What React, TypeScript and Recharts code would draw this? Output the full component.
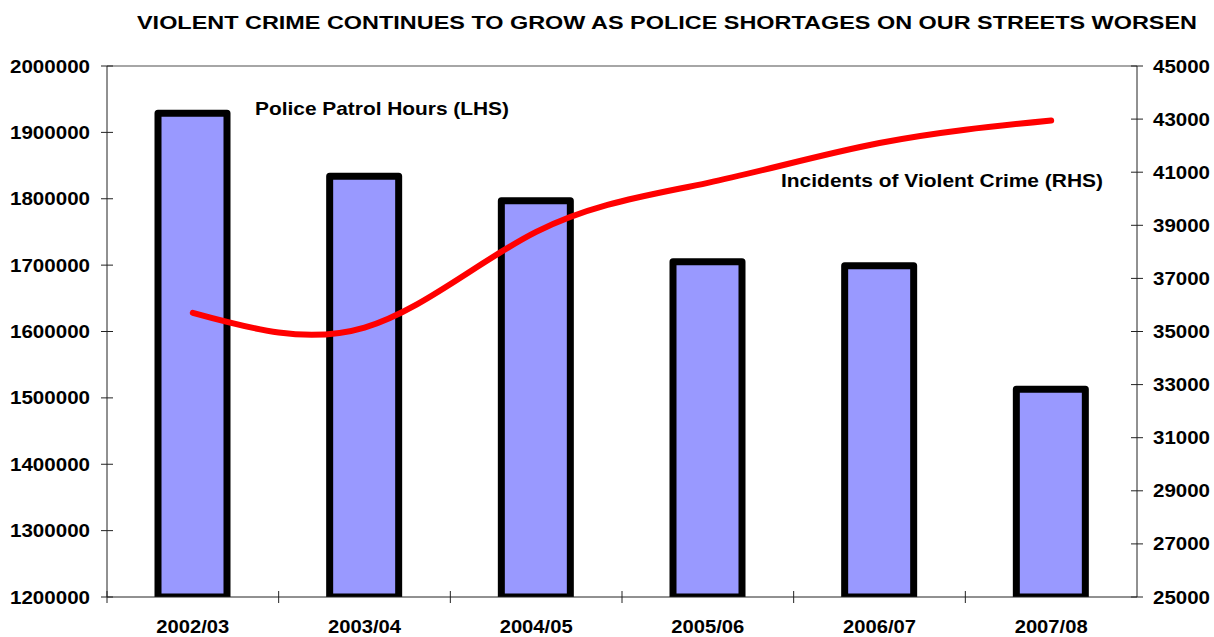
import { ComposedChart, Bar, Line, XAxis, YAxis, ReferenceLine } from "recharts";

const years = ["2002/03", "2003/04", "2004/05", "2005/06", "2006/07", "2007/08"];
const patrolHours = [1929000, 1834000, 1797000, 1705000, 1699000, 1513000];
const violentCrime = [35700, 35150, 38750, 40600, 42100, 42950];
const leftTicks = [1200000, 1300000, 1400000, 1500000, 1600000, 1700000, 1800000, 1900000, 2000000];
const rightTicks = [25000, 27000, 29000, 31000, 33000, 35000, 37000, 39000, 41000, 43000, 45000];

const FONT = "Arial, 'Liberation Sans', Helvetica, sans-serif";

const data = years.map((y, i) => ({
  year: y,
  patrol: patrolHours[i],
  crime: violentCrime[i],
}));

// x ticks: label under the bar + small separator tick between categories
const XTick = (props: any) => {
  const { x, y, payload } = props;
  const half = payload?.offset || 85.8;
  return (
    <g>
      <line x1={x - half} x2={x - half} y1={y - 6} y2={y + 6} stroke="#222" strokeWidth={1} />
      <text
        x={x}
        y={y + 36}
        textAnchor="middle"
        fontFamily={FONT}
        fontWeight="bold"
        fontSize={18}
        fill="#000"
        textLength={73}
        lengthAdjust="spacingAndGlyphs"
      >
        {payload.value}
      </text>
    </g>
  );
};

const LeftTick = (props: any) => {
  const { x, y, payload } = props;
  return (
    <g>
      <line x1={x - 6} x2={x + 6} y1={y} y2={y} stroke="#222" strokeWidth={1} />
      <text
        x={x - 17}
        y={y + 6.5}
        textAnchor="end"
        fontFamily={FONT}
        fontWeight="bold"
        fontSize={18}
        fill="#000"
        textLength={80}
        lengthAdjust="spacingAndGlyphs"
      >
        {payload.value}
      </text>
    </g>
  );
};

const RightTick = (props: any) => {
  const { x, y, payload } = props;
  return (
    <g>
      <line x1={x - 6} x2={x + 6} y1={y} y2={y} stroke="#222" strokeWidth={1} />
      <text
        x={x + 16}
        y={y + 6.5}
        textAnchor="start"
        fontFamily={FONT}
        fontWeight="bold"
        fontSize={18}
        fill="#000"
        textLength={57}
        lengthAdjust="spacingAndGlyphs"
      >
        {payload.value}
      </text>
    </g>
  );
};

export default function App() {
  return (
    <div style={{ position: "fixed", top: 0, left: 0, width: 1214, height: 637, background: "#fff" }}>
      <ComposedChart
        width={1214}
        height={637}
        data={data}
        margin={{ top: 66, right: 0, bottom: 39, left: 0 }}
      >
        <XAxis
          dataKey="year"
          height={1}
          tickSize={0}
          tickMargin={0}
          tick={<XTick />}
          axisLine={{ stroke: "#222", strokeWidth: 1 }}
          interval={0}
        />
        <YAxis
          yAxisId="left"
          width={107}
          domain={[1200000, 2000000]}
          ticks={leftTicks}
          tickSize={0}
          tickMargin={0}
          tick={<LeftTick />}
          axisLine={{ stroke: "#222", strokeWidth: 1 }}
          allowDataOverflow
        />
        <YAxis
          yAxisId="right"
          orientation="right"
          width={77}
          domain={[25000, 45000]}
          ticks={rightTicks}
          tickSize={0}
          tickMargin={0}
          tick={<RightTick />}
          axisLine={{ stroke: "#222", strokeWidth: 1 }}
          allowDataOverflow
        />
        <ReferenceLine yAxisId="left" y={2000000} stroke="#888" strokeWidth={1.5} />
        <Bar
          yAxisId="left"
          dataKey="patrol"
          fill="#9999FF"
          stroke="#000"
          strokeWidth={7}
          strokeLinejoin="round"
          barSize={69}
          isAnimationActive={false}
        />
        <Line
          yAxisId="right"
          dataKey="crime"
          type="natural"
          stroke="#FF0000"
          strokeWidth={6}
          strokeLinecap="round"
          dot={false}
          activeDot={false}
          isAnimationActive={false}
        />
      </ComposedChart>
      <svg
        width={1214}
        height={637}
        style={{ position: "absolute", top: 0, left: 0, pointerEvents: "none" }}
      >
        <text x={137} y={29} fontFamily={FONT} fontWeight="bold" fontSize={18.5} fill="#000" textLength={1060} lengthAdjust="spacingAndGlyphs">
          VIOLENT CRIME CONTINUES TO GROW AS POLICE SHORTAGES ON OUR STREETS WORSEN
        </text>
        <text x={255} y={115} fontFamily={FONT} fontWeight="bold" fontSize={19} fill="#000" textLength={254} lengthAdjust="spacingAndGlyphs">
          Police Patrol Hours (LHS)
        </text>
        <text x={781} y={187} fontFamily={FONT} fontWeight="bold" fontSize={19} fill="#000" textLength={322} lengthAdjust="spacingAndGlyphs">
          Incidents of Violent Crime (RHS)
        </text>
      </svg>
    </div>
  );
}
